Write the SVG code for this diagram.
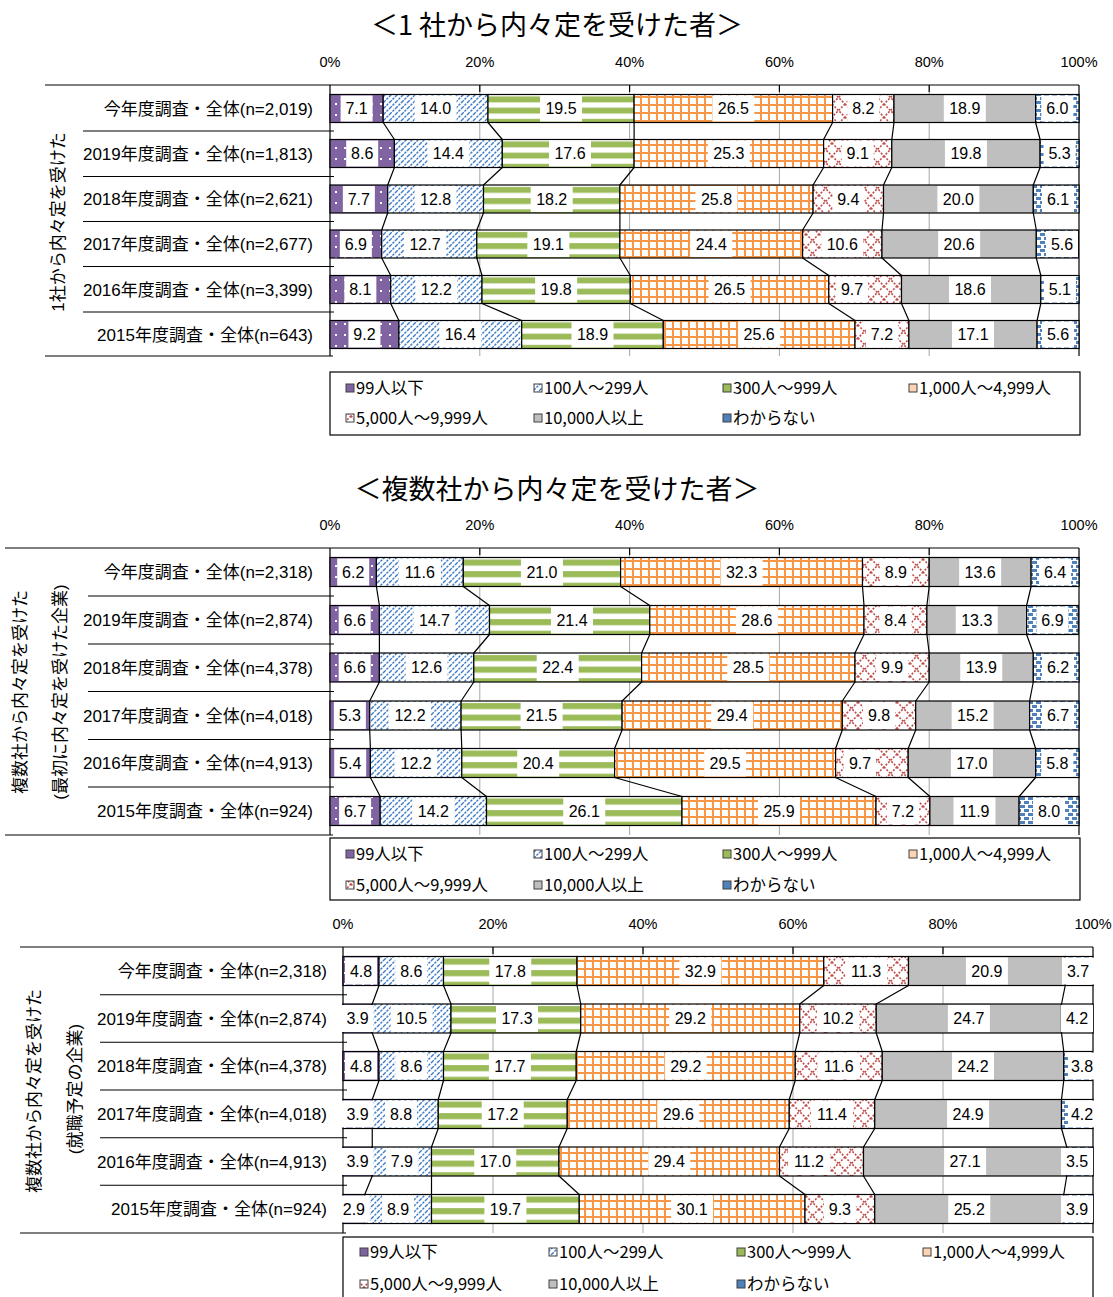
<svg xmlns="http://www.w3.org/2000/svg" width="1113" height="1297" viewBox="0 0 1113 1297">
<style>
.s1{fill:url(#pP)}.s2{fill:url(#pB)}.s3{fill:url(#pG)}.s4{fill:url(#pO)}.s5{fill:url(#pR)}.s6{fill:#BFBFBF}.s7{fill:url(#pD)}
.bar rect{stroke:#000;stroke-width:1.2}
.lb rect{fill:#fff}
.v{font-family:"Liberation Sans",sans-serif;font-size:16px;text-anchor:middle;fill:#000}
.cat{font-family:"Liberation Sans","Noto Sans CJK JP",sans-serif;font-size:17px;text-anchor:end;fill:#000}
.vt{font-family:"Liberation Sans","Noto Sans CJK JP",sans-serif;font-size:17px;text-anchor:middle;fill:#000}
.ttl{font-family:"Noto Sans CJK JP",sans-serif;font-size:27px;text-anchor:middle;fill:#000}
.axl{font-family:"Liberation Sans",sans-serif;font-size:14.5px;text-anchor:middle;fill:#000}
.grid{stroke:#A6A6A6;stroke-width:1}
.ax{stroke:#000;stroke-width:1.2;fill:none}
.conn{stroke:#000;stroke-width:1.2;fill:none}
.legbox{fill:#fff;stroke:#000;stroke-width:1.2}
.leg{font-family:"Noto Sans CJK JP",sans-serif;font-size:16.5px;fill:#000}
.mk{stroke:#404040;stroke-width:1}
</style>
<defs>
<pattern id="pP" width="9" height="11" patternUnits="userSpaceOnUse"><rect width="9" height="11" fill="#8064A2"/><rect x="2" y="4" width="2" height="2" fill="#fff"/></pattern>
<pattern id="pB" width="6" height="6" patternUnits="userSpaceOnUse"><rect width="6" height="6" fill="#fff"/><path d="M-1,1L1,-1M0,6L6,0M5,7L7,5" stroke="#3F7CC8" stroke-width="1.4" stroke-dasharray="2.5,1"/></pattern>
<pattern id="pG" patternUnits="objectBoundingBox" patternContentUnits="objectBoundingBox" width="1" height="0.4"><rect width="1" height="0.4" fill="#fff"/><rect y="0.07" width="1" height="0.21" fill="#9BBB59"/></pattern>
<pattern id="pO" width="8" height="8" patternUnits="userSpaceOnUse"><rect width="8" height="8" fill="#fff"/><rect width="8" height="2" fill="#F79646"/><rect width="2" height="8" fill="#F79646"/></pattern>
<pattern id="pR" width="13" height="13" patternUnits="userSpaceOnUse"><rect width="13" height="13" fill="#fff"/><path d="M0,0L13,13M13,0L0,13" stroke="#C0504D" stroke-width="1.6" stroke-dasharray="2,1.5"/></pattern>
<pattern id="pD" width="8" height="8" patternUnits="userSpaceOnUse"><rect width="8" height="8" fill="#fff"/><rect x="0" y="1" width="5" height="3" fill="#4F81BD"/><rect x="4" y="5" width="4" height="3" fill="#4F81BD"/><rect x="0" y="5" width="1" height="3" fill="#4F81BD"/></pattern>
</defs>
<rect width="1113" height="1297" fill="#fff"/>

<!-- ================= CHART 1 ================= -->
<g id="chart1">
<text id="title1" class="ttl" x="557" y="35">＜1 社から内々定を受けた者＞</text>
<g id="c1-axis-labels" class="axl">
<text x="330" y="67">0%</text><text x="479.8" y="67">20%</text><text x="629.6" y="67">40%</text><text x="779.4" y="67">60%</text><text x="929.2" y="67">80%</text><text x="1079" y="67">100%</text>
</g>
<g id="c1-grid" class="grid">
<line x1="479.8" y1="85" x2="479.8" y2="356"/><line x1="629.6" y1="85" x2="629.6" y2="356"/><line x1="779.4" y1="85" x2="779.4" y2="356"/><line x1="929.2" y1="85" x2="929.2" y2="356"/>
</g>
<g id="c1-axes" class="ax">
<path d="M45,85H1079M45,356H333M330,85V356M1079,85V356"/>
<path d="M479.8,85V92M629.6,85V92M779.4,85V92M929.2,85V92"/>
<path d="M83,131H334M83,176.5H334M83,221.5H334M83,266.5H334M83,312H334"/>
</g>
<text id="c1-group" class="vt" transform="translate(58,222) rotate(-90)" y="6">1社から内々定を受けた</text>
<g id="c1-cats" class="cat">
<text x="313" y="114.5">今年度調査・全体(n=2,019)</text>
<text x="313" y="159.5">2019年度調査・全体(n=1,813)</text>
<text x="313" y="205">2018年度調査・全体(n=2,621)</text>
<text x="313" y="250">2017年度調査・全体(n=2,677)</text>
<text x="313" y="295.5">2016年度調査・全体(n=3,399)</text>
<text x="313" y="340.5">2015年度調査・全体(n=643)</text>
</g>

<g id="c1r0">
<g class="bar"><rect class="s1" x="330" y="94.5" width="53.2" height="28"/><rect class="s2" x="383.2" y="94.5" width="104.8" height="28"/><rect class="s3" x="488" y="94.5" width="146.1" height="28"/><rect class="s4" x="634.1" y="94.5" width="198.5" height="28"/><rect class="s5" x="832.6" y="94.5" width="61.4" height="28"/><rect class="s6" x="894" y="94.5" width="141.6" height="28"/><rect class="s7" x="1035.6" y="94.5" width="43.4" height="28"/></g>
<g class="lb"><rect x="340.6" y="95.5" width="32" height="26"/><rect x="414.6" y="95.5" width="42" height="26"/><rect x="540.05" y="95.5" width="42" height="26"/><rect x="712.35" y="95.5" width="42" height="26"/><rect x="847.3" y="95.5" width="32" height="26"/><rect x="943.8" y="95.5" width="42" height="26"/><rect x="1041.3" y="95.5" width="32" height="26"/></g>
<g class="v"><text x="356.6" y="114">7.1</text><text x="435.6" y="114">14.0</text><text x="561.05" y="114">19.5</text><text x="733.35" y="114">26.5</text><text x="863.3" y="114">8.2</text><text x="964.8" y="114">18.9</text><text x="1057.3" y="114">6.0</text></g>
</g>
<g id="c1r1">
<g class="bar"><rect class="s1" x="330" y="139.5" width="64.4" height="28"/><rect class="s2" x="394.4" y="139.5" width="107.9" height="28"/><rect class="s3" x="502.3" y="139.5" width="131.8" height="28"/><rect class="s4" x="634.1" y="139.5" width="189.5" height="28"/><rect class="s5" x="823.6" y="139.5" width="68.2" height="28"/><rect class="s6" x="891.8" y="139.5" width="148.3" height="28"/><rect class="s7" x="1040.1" y="139.5" width="38.9" height="28"/></g>
<g class="lb"><rect x="346.2" y="140.5" width="32" height="26"/><rect x="427.35" y="140.5" width="42" height="26"/><rect x="549" y="140.5" width="42" height="26"/><rect x="707.85" y="140.5" width="42" height="26"/><rect x="841.7" y="140.5" width="32" height="26"/><rect x="944.95" y="140.5" width="42" height="26"/><rect x="1043.55" y="140.5" width="32" height="26"/></g>
<g class="v"><text x="362.2" y="159">8.6</text><text x="448.35" y="159">14.4</text><text x="570" y="159">17.6</text><text x="728.85" y="159">25.3</text><text x="857.7" y="159">9.1</text><text x="965.95" y="159">19.8</text><text x="1059.55" y="159">5.3</text></g>
</g>
<g id="c1r2">
<g class="bar"><rect class="s1" x="330" y="185" width="57.7" height="28"/><rect class="s2" x="387.7" y="185" width="95.8" height="28"/><rect class="s3" x="483.5" y="185" width="136.4" height="28"/><rect class="s4" x="619.9" y="185" width="193.2" height="28"/><rect class="s5" x="813.1" y="185" width="70.4" height="28"/><rect class="s6" x="883.5" y="185" width="149.8" height="28"/><rect class="s7" x="1033.3" y="185" width="45.7" height="28"/></g>
<g class="lb"><rect x="342.85" y="186" width="32" height="26"/><rect x="414.6" y="186" width="42" height="26"/><rect x="530.7" y="186" width="42" height="26"/><rect x="695.5" y="186" width="42" height="26"/><rect x="832.3" y="186" width="32" height="26"/><rect x="937.4" y="186" width="42" height="26"/><rect x="1042" y="186" width="32" height="26"/></g>
<g class="v"><text x="358.85" y="204.5">7.7</text><text x="435.6" y="204.5">12.8</text><text x="551.7" y="204.5">18.2</text><text x="716.5" y="204.5">25.8</text><text x="848.3" y="204.5">9.4</text><text x="958.4" y="204.5">20.0</text><text x="1058" y="204.5">6.1</text></g>
</g>
<g id="c1r3">
<g class="bar"><rect class="s1" x="330" y="230" width="51.7" height="28"/><rect class="s2" x="381.7" y="230" width="95.1" height="28"/><rect class="s3" x="476.8" y="230" width="143.1" height="28"/><rect class="s4" x="619.9" y="230" width="182.7" height="28"/><rect class="s5" x="802.6" y="230" width="79.4" height="28"/><rect class="s6" x="882" y="230" width="154.3" height="28"/><rect class="s7" x="1036.3" y="230" width="42" height="28"/></g>
<g class="lb"><rect x="339.85" y="231" width="32" height="26"/><rect x="404" y="231" width="42" height="26"/><rect x="527.35" y="231" width="42" height="26"/><rect x="690.25" y="231" width="42" height="26"/><rect x="821.3" y="231" width="42" height="26"/><rect x="938.15" y="231" width="42" height="26"/><rect x="1046" y="231" width="32" height="26"/></g>
<g class="v"><text x="355.85" y="249.5">6.9</text><text x="425" y="249.5">12.7</text><text x="548.35" y="249.5">19.1</text><text x="711.25" y="249.5">24.4</text><text x="842.3" y="249.5">10.6</text><text x="959.15" y="249.5">20.6</text><text x="1062" y="249.5">5.6</text></g>
</g>
<g id="c1r4">
<g class="bar"><rect class="s1" x="330" y="275.5" width="60.7" height="28"/><rect class="s2" x="390.7" y="275.5" width="91.3" height="28"/><rect class="s3" x="482" y="275.5" width="148.3" height="28"/><rect class="s4" x="630.3" y="275.5" width="198.5" height="28"/><rect class="s5" x="828.8" y="275.5" width="72.7" height="28"/><rect class="s6" x="901.5" y="275.5" width="139.3" height="28"/><rect class="s7" x="1040.8" y="275.5" width="38.2" height="28"/></g>
<g class="lb"><rect x="344.35" y="276.5" width="32" height="26"/><rect x="415.35" y="276.5" width="42" height="26"/><rect x="535.15" y="276.5" width="42" height="26"/><rect x="708.55" y="276.5" width="42" height="26"/><rect x="836" y="276.5" width="32" height="26"/><rect x="949" y="276.5" width="42" height="26"/><rect x="1043.9" y="276.5" width="32" height="26"/></g>
<g class="v"><text x="360.35" y="295">8.1</text><text x="436.35" y="295">12.2</text><text x="556.15" y="295">19.8</text><text x="729.55" y="295">26.5</text><text x="852" y="295">9.7</text><text x="970" y="295">18.6</text><text x="1059.9" y="295">5.1</text></g>
</g>
<g id="c1r5">
<g class="bar"><rect class="s1" x="330" y="320.5" width="68.9" height="28"/><rect class="s2" x="398.9" y="320.5" width="122.8" height="28"/><rect class="s3" x="521.7" y="320.5" width="141.6" height="28"/><rect class="s4" x="663.3" y="320.5" width="191.7" height="28"/><rect class="s5" x="855" y="320.5" width="53.9" height="28"/><rect class="s6" x="908.9" y="320.5" width="128.2" height="28"/><rect class="s7" x="1037.1" y="320.5" width="41.9" height="28"/></g>
<g class="lb"><rect x="348.45" y="321.5" width="32" height="26"/><rect x="439.3" y="321.5" width="42" height="26"/><rect x="571.5" y="321.5" width="42" height="26"/><rect x="738.15" y="321.5" width="42" height="26"/><rect x="865.95" y="321.5" width="32" height="26"/><rect x="952" y="321.5" width="42" height="26"/><rect x="1042.05" y="321.5" width="32" height="26"/></g>
<g class="v"><text x="364.45" y="340">9.2</text><text x="460.3" y="340">16.4</text><text x="592.5" y="340">18.9</text><text x="759.15" y="340">25.6</text><text x="881.95" y="340">7.2</text><text x="973" y="340">17.1</text><text x="1058.05" y="340">5.6</text></g>
</g>
<g id="c1-connectors" class="conn">
<path d="M383.2,122.5L394.4,139.5M488,122.5L502.3,139.5M634.1,122.5L634.1,139.5M832.6,122.5L823.6,139.5M894,122.5L891.8,139.5M1035.6,122.5L1040.1,139.5
M394.4,167.5L387.7,185M502.3,167.5L483.5,185M634.1,167.5L619.9,185M823.6,167.5L813.1,185M891.8,167.5L883.5,185M1040.1,167.5L1033.3,185
M387.7,213L381.7,230M483.5,213L476.8,230M619.9,213L619.9,230M813.1,213L802.6,230M883.5,213L882,230M1033.3,213L1036.3,230
M381.7,258L390.7,275.5M476.8,258L482,275.5M619.9,258L630.3,275.5M802.6,258L828.8,275.5M882,258L901.5,275.5M1036.3,258L1040.8,275.5
M390.7,303.5L398.9,320.5M482,303.5L521.7,320.5M630.3,303.5L663.3,320.5M828.8,303.5L855,320.5M901.5,303.5L908.9,320.5M1040.8,303.5L1037.1,320.5"/>
</g>
<g id="c1-legend">
<rect class="legbox" x="330" y="372" width="750" height="63"/>
<rect class="mk" x="346" y="384" width="8" height="8" fill="#8064A2"/><text class="leg" x="356" y="394">99人以下</text>
<rect class="mk" x="534" y="384" width="8" height="8" fill="url(#pB)"/><text class="leg" x="544" y="394">100人～299人</text>
<rect class="mk" x="723" y="384" width="8" height="8" fill="#9BBB59"/><text class="leg" x="733" y="394">300人～999人</text>
<rect class="mk" x="909" y="384" width="8" height="8" fill="#FBD4B4"/><text class="leg" x="919" y="394">1,000人～4,999人</text>
<rect class="mk" x="346" y="414" width="8" height="8" fill="url(#pR)"/><text class="leg" x="356" y="424">5,000人～9,999人</text>
<rect class="mk" x="534" y="414" width="8" height="8" fill="#BFBFBF"/><text class="leg" x="544" y="424">10,000人以上</text>
<rect class="mk" x="723" y="414" width="8" height="8" fill="#4F81BD"/><text class="leg" x="733" y="424">わからない</text>
</g>
</g>

<!-- ================= CHART 2 ================= -->
<g id="chart2">
<text id="title2" class="ttl" x="557" y="499">＜複数社から内々定を受けた者＞</text>
<g id="c2-axis-labels" class="axl">
<text x="330" y="530">0%</text><text x="479.8" y="530">20%</text><text x="629.6" y="530">40%</text><text x="779.4" y="530">60%</text><text x="929.2" y="530">80%</text><text x="1079" y="530">100%</text>
</g>
<g id="c2-grid" class="grid">
<line x1="479.8" y1="548" x2="479.8" y2="835"/><line x1="629.6" y1="548" x2="629.6" y2="835"/><line x1="779.4" y1="548" x2="779.4" y2="835"/><line x1="929.2" y1="548" x2="929.2" y2="835"/>
</g>
<g id="c2-axes" class="ax">
<path d="M5,548H1079M5,835H333M330,548V835M1079,548V835"/>
<path d="M479.8,548V555M629.6,548V555M779.4,548V555M929.2,548V555"/>
<path d="M88,596H334M88,644H334M88,691.5H334M88,739.5H334M88,787H334"/>
</g>
<text id="c2-group-a" class="vt" transform="translate(20,692) rotate(-90)" y="6">複数社から内々定を受けた</text>
<text id="c2-group-b" class="vt" transform="translate(60,692) rotate(-90)" y="6">(最初に内々定を受けた企業)</text>
<g id="c2-cats" class="cat">
<text x="313" y="578">今年度調査・全体(n=2,318)</text>
<text x="313" y="626">2019年度調査・全体(n=2,874)</text>
<text x="313" y="673.5">2018年度調査・全体(n=4,378)</text>
<text x="313" y="721.5">2017年度調査・全体(n=4,018)</text>
<text x="313" y="769">2016年度調査・全体(n=4,913)</text>
<text x="313" y="817">2015年度調査・全体(n=924)</text>
</g>

<g id="c2r0">
<g class="bar"><rect class="s1" x="330" y="557.5" width="46.4" height="29"/><rect class="s2" x="376.4" y="557.5" width="86.9" height="29"/><rect class="s3" x="463.3" y="557.5" width="157.3" height="29"/><rect class="s4" x="620.6" y="557.5" width="241.9" height="29"/><rect class="s5" x="862.5" y="557.5" width="66.7" height="29"/><rect class="s6" x="929.2" y="557.5" width="101.9" height="29"/><rect class="s7" x="1031.1" y="557.5" width="47.9" height="29"/></g>
<g class="lb"><rect x="337.2" y="558.5" width="32" height="27"/><rect x="398.85" y="558.5" width="42" height="27"/><rect x="520.95" y="558.5" width="42" height="27"/><rect x="720.55" y="558.5" width="42" height="27"/><rect x="879.85" y="558.5" width="32" height="27"/><rect x="959.15" y="558.5" width="42" height="27"/><rect x="1039.05" y="558.5" width="32" height="27"/></g>
<g class="v"><text x="353.2" y="577.5">6.2</text><text x="419.85" y="577.5">11.6</text><text x="541.95" y="577.5">21.0</text><text x="741.55" y="577.5">32.3</text><text x="895.85" y="577.5">8.9</text><text x="980.15" y="577.5">13.6</text><text x="1055.05" y="577.5">6.4</text></g>
</g>
<g id="c2r1">
<g class="bar"><rect class="s1" x="330" y="605.5" width="49.4" height="29"/><rect class="s2" x="379.4" y="605.5" width="110.1" height="29"/><rect class="s3" x="489.5" y="605.5" width="160.3" height="29"/><rect class="s4" x="649.8" y="605.5" width="214.2" height="29"/><rect class="s5" x="864" y="605.5" width="62.9" height="29"/><rect class="s6" x="926.9" y="605.5" width="99.7" height="29"/><rect class="s7" x="1026.6" y="605.5" width="51.7" height="29"/></g>
<g class="lb"><rect x="338.7" y="606.5" width="32" height="27"/><rect x="413.45" y="606.5" width="42" height="27"/><rect x="551" y="606.5" width="42" height="27"/><rect x="735.9" y="606.5" width="42" height="27"/><rect x="879.45" y="606.5" width="32" height="27"/><rect x="955.75" y="606.5" width="42" height="27"/><rect x="1036.45" y="606.5" width="32" height="27"/></g>
<g class="v"><text x="354.7" y="625.5">6.6</text><text x="434.45" y="625.5">14.7</text><text x="572" y="625.5">21.4</text><text x="756.9" y="625.5">28.6</text><text x="895.45" y="625.5">8.4</text><text x="976.75" y="625.5">13.3</text><text x="1052.45" y="625.5">6.9</text></g>
</g>
<g id="c2r2">
<g class="bar"><rect class="s1" x="330" y="653" width="49.4" height="29"/><rect class="s2" x="379.4" y="653" width="94.4" height="29"/><rect class="s3" x="473.8" y="653" width="167.8" height="29"/><rect class="s4" x="641.6" y="653" width="213.4" height="29"/><rect class="s5" x="855" y="653" width="74.2" height="29"/><rect class="s6" x="929.2" y="653" width="104.1" height="29"/><rect class="s7" x="1033.3" y="653" width="45.7" height="29"/></g>
<g class="lb"><rect x="338.7" y="654" width="32" height="27"/><rect x="405.6" y="654" width="42" height="27"/><rect x="536.7" y="654" width="42" height="27"/><rect x="727.3" y="654" width="42" height="27"/><rect x="876.1" y="654" width="32" height="27"/><rect x="960.25" y="654" width="42" height="27"/><rect x="1042" y="654" width="32" height="27"/></g>
<g class="v"><text x="354.7" y="673">6.6</text><text x="426.6" y="673">12.6</text><text x="557.7" y="673">22.4</text><text x="748.3" y="673">28.5</text><text x="892.1" y="673">9.9</text><text x="981.25" y="673">13.9</text><text x="1058" y="673">6.2</text></g>
</g>
<g id="c2r3">
<g class="bar"><rect class="s1" x="330" y="701" width="39.7" height="29"/><rect class="s2" x="369.7" y="701" width="91.4" height="29"/><rect class="s3" x="461.1" y="701" width="161" height="29"/><rect class="s4" x="622.1" y="701" width="220.2" height="29"/><rect class="s5" x="842.3" y="701" width="73.4" height="29"/><rect class="s6" x="915.7" y="701" width="113.9" height="29"/><rect class="s7" x="1029.6" y="701" width="49.4" height="29"/></g>
<g class="lb"><rect x="333.85" y="702" width="32" height="27"/><rect x="389" y="702" width="42" height="27"/><rect x="520.6" y="702" width="42" height="27"/><rect x="711.2" y="702" width="42" height="27"/><rect x="863" y="702" width="32" height="27"/><rect x="951.65" y="702" width="42" height="27"/><rect x="1042" y="702" width="32" height="27"/></g>
<g class="v"><text x="349.85" y="721">5.3</text><text x="410" y="721">12.2</text><text x="541.6" y="721">21.5</text><text x="732.2" y="721">29.4</text><text x="879" y="721">9.8</text><text x="972.65" y="721">15.2</text><text x="1058" y="721">6.7</text></g>
</g>
<g id="c2r4">
<g class="bar"><rect class="s1" x="330" y="748.5" width="40.4" height="29"/><rect class="s2" x="370.4" y="748.5" width="91.4" height="29"/><rect class="s3" x="461.8" y="748.5" width="152.8" height="29"/><rect class="s4" x="614.6" y="748.5" width="221" height="29"/><rect class="s5" x="835.6" y="748.5" width="72.6" height="29"/><rect class="s6" x="908.2" y="748.5" width="127.4" height="29"/><rect class="s7" x="1035.6" y="748.5" width="43.4" height="29"/></g>
<g class="lb"><rect x="334.2" y="749.5" width="32" height="27"/><rect x="395.1" y="749.5" width="42" height="27"/><rect x="517.2" y="749.5" width="42" height="27"/><rect x="704.1" y="749.5" width="42" height="27"/><rect x="844" y="749.5" width="32" height="27"/><rect x="950.9" y="749.5" width="42" height="27"/><rect x="1041.3" y="749.5" width="32" height="27"/></g>
<g class="v"><text x="350.2" y="768.5">5.4</text><text x="416.1" y="768.5">12.2</text><text x="538.2" y="768.5">20.4</text><text x="725.1" y="768.5">29.5</text><text x="860" y="768.5">9.7</text><text x="971.9" y="768.5">17.0</text><text x="1057.3" y="768.5">5.8</text></g>
</g>
<g id="c2r5">
<g class="bar"><rect class="s1" x="330" y="796.5" width="50.2" height="29"/><rect class="s2" x="380.2" y="796.5" width="106.3" height="29"/><rect class="s3" x="486.5" y="796.5" width="195.5" height="29"/><rect class="s4" x="682" y="796.5" width="194" height="29"/><rect class="s5" x="876" y="796.5" width="53.9" height="29"/><rect class="s6" x="929.9" y="796.5" width="89.2" height="29"/><rect class="s7" x="1019.1" y="796.5" width="59.9" height="29"/></g>
<g class="lb"><rect x="339.1" y="797.5" width="32" height="27"/><rect x="412.35" y="797.5" width="42" height="27"/><rect x="563.25" y="797.5" width="42" height="27"/><rect x="758" y="797.5" width="42" height="27"/><rect x="886.95" y="797.5" width="32" height="27"/><rect x="953.5" y="797.5" width="42" height="27"/><rect x="1033.05" y="797.5" width="32" height="27"/></g>
<g class="v"><text x="355.1" y="816.5">6.7</text><text x="433.35" y="816.5">14.2</text><text x="584.25" y="816.5">26.1</text><text x="779" y="816.5">25.9</text><text x="902.95" y="816.5">7.2</text><text x="974.5" y="816.5">11.9</text><text x="1049.05" y="816.5">8.0</text></g>
</g>
<g id="c2-connectors" class="conn">
<path d="M376.4,586.5L379.4,605.5M463.3,586.5L489.5,605.5M620.6,586.5L649.8,605.5M862.5,586.5L864,605.5M929.2,586.5L926.9,605.5M1031.1,586.5L1026.6,605.5
M379.4,634.5L379.4,653M489.5,634.5L473.8,653M649.8,634.5L641.6,653M864,634.5L855,653M926.9,634.5L929.2,653M1026.6,634.5L1033.3,653
M379.4,682L369.7,701M473.8,682L461.1,701M641.6,682L622.1,701M855,682L842.3,701M929.2,682L915.7,701M1033.3,682L1029.6,701
M369.7,730L370.4,748.5M461.1,730L461.8,748.5M622.1,730L614.6,748.5M842.3,730L835.6,748.5M915.7,730L908.2,748.5M1029.6,730L1035.6,748.5
M370.4,777.5L380.2,796.5M461.8,777.5L486.5,796.5M614.6,777.5L682,796.5M835.6,777.5L876,796.5M908.2,777.5L929.9,796.5M1035.6,777.5L1019.1,796.5"/>
</g>
<g id="c2-legend">
<rect class="legbox" x="330" y="838" width="750" height="62"/>
<rect class="mk" x="346" y="850" width="8" height="8" fill="#8064A2"/><text class="leg" x="356" y="860">99人以下</text>
<rect class="mk" x="534" y="850" width="8" height="8" fill="url(#pB)"/><text class="leg" x="544" y="860">100人～299人</text>
<rect class="mk" x="723" y="850" width="8" height="8" fill="#9BBB59"/><text class="leg" x="733" y="860">300人～999人</text>
<rect class="mk" x="909" y="850" width="8" height="8" fill="#FBD4B4"/><text class="leg" x="919" y="860">1,000人～4,999人</text>
<rect class="mk" x="346" y="881" width="8" height="8" fill="url(#pR)"/><text class="leg" x="356" y="891">5,000人～9,999人</text>
<rect class="mk" x="534" y="881" width="8" height="8" fill="#BFBFBF"/><text class="leg" x="544" y="891">10,000人以上</text>
<rect class="mk" x="723" y="881" width="8" height="8" fill="#4F81BD"/><text class="leg" x="733" y="891">わからない</text>
</g>
</g>

<!-- ================= CHART 3 ================= -->
<g id="chart3">
<g id="c3-axis-labels" class="axl">
<text x="343" y="929">0%</text><text x="493" y="929">20%</text><text x="643" y="929">40%</text><text x="793" y="929">60%</text><text x="943" y="929">80%</text><text x="1093" y="929">100%</text>
</g>
<g id="c3-grid" class="grid">
<line x1="493" y1="947" x2="493" y2="1233"/><line x1="643" y1="947" x2="643" y2="1233"/><line x1="793" y1="947" x2="793" y2="1233"/><line x1="943" y1="947" x2="943" y2="1233"/>
</g>
<g id="c3-axes" class="ax">
<path d="M20,947H1093M20,1233H346M343,947V1233M1093,947V1233"/>
<path d="M493,947V954M643,947V954M793,947V954M943,947V954"/>
<path d="M100,994.75H347M100,1042.25H347M100,1090H347M100,1137.75H347M100,1185.25H347"/>
</g>
<text id="c3-group-a" class="vt" transform="translate(34,1091) rotate(-90)" y="6">複数社から内々定を受けた</text>
<text id="c3-group-b" class="vt" transform="translate(75,1089) rotate(-90)" y="6">(就職予定の企業)</text>
<g id="c3-cats" class="cat">
<text x="327" y="977">今年度調査・全体(n=2,318)</text>
<text x="327" y="1024.5">2019年度調査・全体(n=2,874)</text>
<text x="327" y="1072">2018年度調査・全体(n=4,378)</text>
<text x="327" y="1120">2017年度調査・全体(n=4,018)</text>
<text x="327" y="1167.5">2016年度調査・全体(n=4,913)</text>
<text x="327" y="1215">2015年度調査・全体(n=924)</text>
</g>

<g id="c3r0">
<g class="bar"><rect class="s1" x="343" y="956.5" width="36" height="29"/><rect class="s2" x="379" y="956.5" width="64.5" height="29"/><rect class="s3" x="443.5" y="956.5" width="133.5" height="29"/><rect class="s4" x="577" y="956.5" width="246.75" height="29"/><rect class="s5" x="823.75" y="956.5" width="84.75" height="29"/><rect class="s6" x="908.5" y="956.5" width="156.75" height="29"/><rect class="s7" x="1065.25" y="956.5" width="27.75" height="29"/></g>
<g class="lb"><rect x="345" y="957.5" width="32" height="27"/><rect x="395.25" y="957.5" width="32" height="27"/><rect x="489.25" y="957.5" width="42" height="27"/><rect x="679.4" y="957.5" width="42" height="27"/><rect x="845.1" y="957.5" width="42" height="27"/><rect x="965.9" y="957.5" width="42" height="27"/><rect x="1062" y="957.5" width="32" height="27"/></g>
<g class="v"><text x="361" y="976.5">4.8</text><text x="411.25" y="976.5">8.6</text><text x="510.25" y="976.5">17.8</text><text x="700.4" y="976.5">32.9</text><text x="866.1" y="976.5">11.3</text><text x="986.9" y="976.5">20.9</text><text x="1078" y="976.5">3.7</text></g>
</g>
<g id="c3r1">
<g class="bar"><rect class="s1" x="343" y="1004" width="29.25" height="29"/><rect class="s2" x="372.25" y="1004" width="78.75" height="29"/><rect class="s3" x="451" y="1004" width="129.75" height="29"/><rect class="s4" x="580.75" y="1004" width="219" height="29"/><rect class="s5" x="799.75" y="1004" width="76.5" height="29"/><rect class="s6" x="876.25" y="1004" width="185.25" height="29"/><rect class="s7" x="1061.5" y="1004" width="31.5" height="29"/></g>
<g class="lb"><rect x="341.6" y="1005" width="32" height="27"/><rect x="390.6" y="1005" width="42" height="27"/><rect x="496" y="1005" width="42" height="27"/><rect x="669.25" y="1005" width="42" height="27"/><rect x="817" y="1005" width="42" height="27"/><rect x="947.9" y="1005" width="42" height="27"/><rect x="1061" y="1005" width="32" height="27"/></g>
<g class="v"><text x="357.6" y="1024">3.9</text><text x="411.6" y="1024">10.5</text><text x="517" y="1024">17.3</text><text x="690.25" y="1024">29.2</text><text x="838" y="1024">10.2</text><text x="968.9" y="1024">24.7</text><text x="1077" y="1024">4.2</text></g>
</g>
<g id="c3r2">
<g class="bar"><rect class="s1" x="343" y="1051.5" width="36" height="29"/><rect class="s2" x="379" y="1051.5" width="64.5" height="29"/><rect class="s3" x="443.5" y="1051.5" width="132.75" height="29"/><rect class="s4" x="576.25" y="1051.5" width="219" height="29"/><rect class="s5" x="795.25" y="1051.5" width="87" height="29"/><rect class="s6" x="882.25" y="1051.5" width="181.5" height="29"/><rect class="s7" x="1063.75" y="1051.5" width="28.5" height="29"/></g>
<g class="lb"><rect x="345" y="1052.5" width="32" height="27"/><rect x="395.25" y="1052.5" width="32" height="27"/><rect x="488.9" y="1052.5" width="42" height="27"/><rect x="664.75" y="1052.5" width="42" height="27"/><rect x="817.75" y="1052.5" width="42" height="27"/><rect x="952" y="1052.5" width="42" height="27"/><rect x="1068" y="1052.5" width="28" height="27"/></g>
<g class="v"><text x="361" y="1071.5">4.8</text><text x="411.25" y="1071.5">8.6</text><text x="509.9" y="1071.5">17.7</text><text x="685.75" y="1071.5">29.2</text><text x="838.75" y="1071.5">11.6</text><text x="973" y="1071.5">24.2</text><text x="1082" y="1071.5">3.8</text></g>
</g>
<g id="c3r3">
<g class="bar"><rect class="s1" x="343" y="1099.5" width="29.25" height="29"/><rect class="s2" x="372.25" y="1099.5" width="66" height="29"/><rect class="s3" x="438.25" y="1099.5" width="129" height="29"/><rect class="s4" x="567.25" y="1099.5" width="222" height="29"/><rect class="s5" x="789.25" y="1099.5" width="85.5" height="29"/><rect class="s6" x="874.75" y="1099.5" width="186.75" height="29"/><rect class="s7" x="1061.5" y="1099.5" width="31.5" height="29"/></g>
<g class="lb"><rect x="341.6" y="1100.5" width="32" height="27"/><rect x="385" y="1100.5" width="32" height="27"/><rect x="481.75" y="1100.5" width="42" height="27"/><rect x="657.25" y="1100.5" width="42" height="27"/><rect x="811" y="1100.5" width="42" height="27"/><rect x="947.1" y="1100.5" width="42" height="27"/><rect x="1068" y="1100.5" width="28" height="27"/></g>
<g class="v"><text x="357.6" y="1119.5">3.9</text><text x="401" y="1119.5">8.8</text><text x="502.75" y="1119.5">17.2</text><text x="678.25" y="1119.5">29.6</text><text x="832" y="1119.5">11.4</text><text x="968.1" y="1119.5">24.9</text><text x="1082" y="1119.5">4.2</text></g>
</g>
<g id="c3r4">
<g class="bar"><rect class="s1" x="343" y="1147" width="29.25" height="29"/><rect class="s2" x="372.25" y="1147" width="59.25" height="29"/><rect class="s3" x="431.5" y="1147" width="127.5" height="29"/><rect class="s4" x="559" y="1147" width="220.5" height="29"/><rect class="s5" x="779.5" y="1147" width="84" height="29"/><rect class="s6" x="863.5" y="1147" width="203.25" height="29"/><rect class="s7" x="1066.75" y="1147" width="26.25" height="29"/></g>
<g class="lb"><rect x="341.6" y="1148" width="32" height="27"/><rect x="385.9" y="1148" width="32" height="27"/><rect x="474.25" y="1148" width="42" height="27"/><rect x="648.25" y="1148" width="42" height="27"/><rect x="788" y="1148" width="42" height="27"/><rect x="944.1" y="1148" width="42" height="27"/><rect x="1061" y="1148" width="32" height="27"/></g>
<g class="v"><text x="357.6" y="1167">3.9</text><text x="401.9" y="1167">7.9</text><text x="495.25" y="1167">17.0</text><text x="669.25" y="1167">29.4</text><text x="809" y="1167">11.2</text><text x="965.1" y="1167">27.1</text><text x="1077" y="1167">3.5</text></g>
</g>
<g id="c3r5">
<g class="bar"><rect class="s1" x="343" y="1194.5" width="21.75" height="29"/><rect class="s2" x="364.75" y="1194.5" width="66.75" height="29"/><rect class="s3" x="431.5" y="1194.5" width="147.75" height="29"/><rect class="s4" x="579.25" y="1194.5" width="225.75" height="29"/><rect class="s5" x="805" y="1194.5" width="69.75" height="29"/><rect class="s6" x="874.75" y="1194.5" width="189" height="29"/><rect class="s7" x="1063.75" y="1194.5" width="29.25" height="29"/></g>
<g class="lb"><rect x="337.9" y="1195.5" width="32" height="27"/><rect x="382.1" y="1195.5" width="32" height="27"/><rect x="484.4" y="1195.5" width="42" height="27"/><rect x="671.1" y="1195.5" width="42" height="27"/><rect x="823.9" y="1195.5" width="32" height="27"/><rect x="948.25" y="1195.5" width="42" height="27"/><rect x="1061" y="1195.5" width="32" height="27"/></g>
<g class="v"><text x="353.9" y="1214.5">2.9</text><text x="398.1" y="1214.5">8.9</text><text x="505.4" y="1214.5">19.7</text><text x="692.1" y="1214.5">30.1</text><text x="839.9" y="1214.5">9.3</text><text x="969.25" y="1214.5">25.2</text><text x="1077" y="1214.5">3.9</text></g>
</g>
<g id="c3-connectors" class="conn">
<path d="M379,985.5L372.25,1004M443.5,985.5L451,1004M577,985.5L580.75,1004M823.75,985.5L799.75,1004M908.5,985.5L876.25,1004M1065.25,985.5L1061.5,1004
M372.25,1033L379,1051.5M451,1033L443.5,1051.5M580.75,1033L576.25,1051.5M799.75,1033L795.25,1051.5M876.25,1033L882.25,1051.5M1061.5,1033L1063.75,1051.5
M379,1080.5L372.25,1099.5M443.5,1080.5L438.25,1099.5M576.25,1080.5L567.25,1099.5M795.25,1080.5L789.25,1099.5M882.25,1080.5L874.75,1099.5M1063.75,1080.5L1061.5,1099.5
M372.25,1128.5L372.25,1147M438.25,1128.5L431.5,1147M567.25,1128.5L559,1147M789.25,1128.5L779.5,1147M874.75,1128.5L863.5,1147M1061.5,1128.5L1066.75,1147
M372.25,1176L364.75,1194.5M431.5,1176L431.5,1194.5M559,1176L579.25,1194.5M779.5,1176L805,1194.5M863.5,1176L874.75,1194.5M1066.75,1176L1063.75,1194.5"/>
</g>
<g id="c3-legend">
<rect class="legbox" x="343" y="1237" width="750" height="70"/>
<rect class="mk" x="360" y="1248" width="8" height="8" fill="#8064A2"/><text class="leg" x="370" y="1258">99人以下</text>
<rect class="mk" x="549" y="1248" width="8" height="8" fill="url(#pB)"/><text class="leg" x="559" y="1258">100人～299人</text>
<rect class="mk" x="737" y="1248" width="8" height="8" fill="#9BBB59"/><text class="leg" x="747" y="1258">300人～999人</text>
<rect class="mk" x="923" y="1248" width="8" height="8" fill="#FBD4B4"/><text class="leg" x="933" y="1258">1,000人～4,999人</text>
<rect class="mk" x="360" y="1280" width="8" height="8" fill="url(#pR)"/><text class="leg" x="370" y="1290">5,000人～9,999人</text>
<rect class="mk" x="549" y="1280" width="8" height="8" fill="#BFBFBF"/><text class="leg" x="559" y="1290">10,000人以上</text>
<rect class="mk" x="737" y="1280" width="8" height="8" fill="#4F81BD"/><text class="leg" x="747" y="1290">わからない</text>
</g>
</g>
</svg>
